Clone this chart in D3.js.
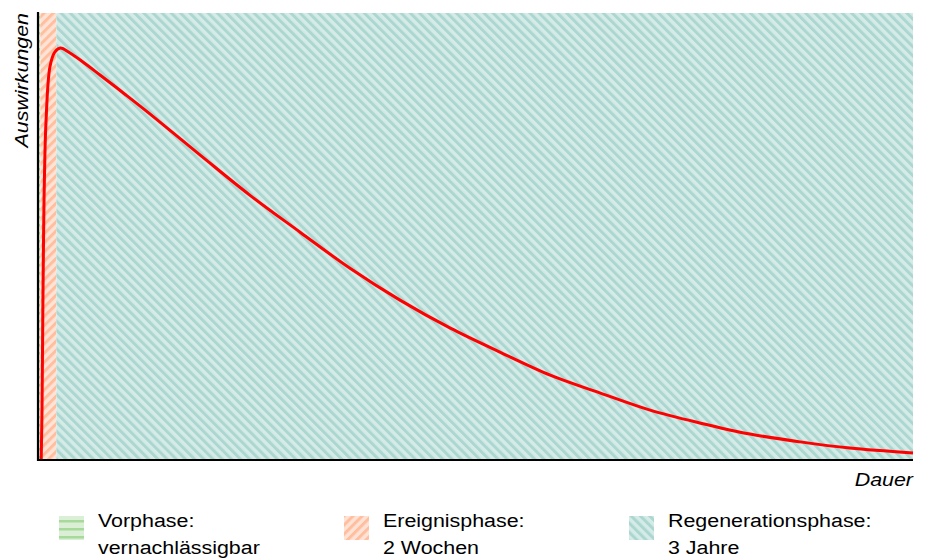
<!DOCTYPE html>
<html><head><meta charset="utf-8">
<script src="https://cdn.jsdelivr.net/npm/d3@7"></script>
<style>body{margin:0;background:#fff}svg{display:block}text{font-family:"Liberation Sans",Arial,sans-serif}</style>
</head><body><svg id="c" width="928" height="559"></svg>
<script>
// Phases (time units: days)
const phaseNames = ["Vorphase", "Ereignisphase", "Regenerationsphase"];
const phaseLabels = [["Vorphase:", "vernachlässigbar"], ["Ereignisphase:", "2 Wochen"], ["Regenerationsphase:", "3 Jahre"]];
const phaseStart = [0, 3, 23];
const phaseEnd = [3, 23, 1095];
// Impact curve
const curveT = [4, 5, 6, 7, 8, 10, 15, 21, 28, 40, 55, 78, 110, 140, 203, 265, 328, 390, 453, 516, 578, 641, 703, 766, 828, 891, 954, 1016, 1095];
const curveV = [0, 0.12, 0.35, 0.55, 0.68, 0.82, 0.955, 0.99, 1.0, 0.988, 0.968, 0.934, 0.886, 0.84, 0.740, 0.643, 0.553, 0.466, 0.388, 0.320, 0.262, 0.206, 0.163, 0.121, 0.090, 0.063, 0.044, 0.029, 0.017];

const svg = d3.select("#c");
const m = {l: 38, r: 15, t: 13, b: 99};
const W = 928, H = 559;
const x = d3.scaleLinear().domain([0, 1095]).range([m.l, W - m.r]);
const y = d3.scaleLinear().domain([0, 1.085]).range([H - m.b, m.t]);

const defs = svg.append("defs");
function pat(id, bg, fg, rot, size, sw) {
  const p = defs.append("pattern").attr("id", id).attr("patternUnits", "userSpaceOnUse")
    .attr("width", size).attr("height", size).attr("patternTransform", `rotate(${rot})`);
  p.append("rect").attr("width", size).attr("height", size).attr("fill", bg);
  p.append("rect").attr("width", sw).attr("height", size).attr("fill", fg);
}
pat("pG", "#daefd6", "#a7da9a", 90, 8, 2.5);
pat("pO", "#ffe3d6", "#ffbf9f", 45, 6.5, 3);
pat("pT", "#d5ebe8", "#acd7d1", -45, 6.5, 3);
const fills = ["url(#pG)", "url(#pO)", "url(#pT)"];

svg.append("g").selectAll("rect").data(phaseNames).join("rect")
  .attr("x", (d, i) => x(phaseStart[i]))
  .attr("width", (d, i) => x(phaseEnd[i]) - x(phaseStart[i]))
  .attr("y", y(1.085)).attr("height", y(0) - y(1.085))
  .attr("fill", (d, i) => fills[i]);

const line = d3.line().x((d, i) => x(curveT[i])).y(d => y(d)).curve(d3.curveCatmullRom.alpha(0.5));
svg.append("path").datum(curveV).attr("d", line).attr("fill", "none")
  .attr("stroke", "#ff0000").attr("stroke-width", 3).attr("stroke-linejoin", "round");

// axes
svg.append("line").attr("x1", x(0)).attr("x2", x(0)).attr("y1", m.t - 1).attr("y2", y(0) + 1)
  .attr("stroke", "#000").attr("stroke-width", 2.2);
svg.append("line").attr("x1", x(0) - 1).attr("x2", x(1095)).attr("y1", y(0)).attr("y2", y(0))
  .attr("stroke", "#000").attr("stroke-width", 2.2);

const FS = 18, SX = 1.19;
svg.append("text").attr("transform", `translate(28,${m.t}) rotate(-90) scale(${SX},1)`)
  .attr("text-anchor", "end").attr("font-size", FS).attr("font-style", "italic").text("Auswirkungen");
svg.append("text").attr("transform", `translate(${x(1095)},486) scale(${SX},1)`).attr("text-anchor", "end")
  .attr("font-size", FS).attr("font-style", "italic").text("Dauer");

// legend
const lx = [58, 343, 628];
const lg = svg.append("g").selectAll("g").data(phaseNames).join("g")
  .attr("transform", (d, i) => `translate(${lx[i]},0)`);
lg.append("rect").attr("x", 1).attr("y", 516).attr("width", 25).attr("height", 24)
  .attr("fill", (d, i) => fills[i]);
lg.append("text").attr("transform", `translate(40,527) scale(${SX},1)`).attr("font-size", FS).text((d, i) => phaseLabels[i][0]);
lg.append("text").attr("transform", `translate(40,554) scale(${SX},1)`).attr("font-size", FS).text((d, i) => phaseLabels[i][1]);
</script></body></html>
